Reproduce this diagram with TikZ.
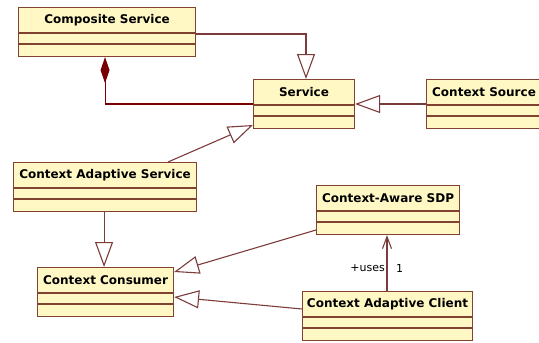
\documentclass[tikz,border=0pt]{standalone}
\usepackage{fontspec}
\setmainfont{DejaVu Sans}
\usetikzlibrary{arrows.meta,calc}
\definecolor{umlfill}{RGB}{255,248,196}
\definecolor{umlborder}{RGB}{130,66,50}
\definecolor{umlline}{RGB}{125,60,60}
\definecolor{umldiamond}{RGB}{120,0,0}
\tikzset{
  classbox/.style={draw=umlborder, fill=umlfill, line width=1.1pt, rectangle, inner sep=0pt, minimum height=49pt, anchor=north west},
  classline/.style={draw=umlborder, line width=1.1pt},
  classname/.style={font=\fontsize{12}{14}\selectfont\bfseries, inner sep=0pt, text=black},
  gen/.style={draw=umlline, line width=1.1pt, -{Triangle[open,length=25pt,width=18pt]}},
  compo/.style={draw=umlline, line width=1.1pt, -{Diamond[length=26pt,width=9pt,fill=umldiamond]}, umldiamond},
  assoc/.style={draw=umlline, line width=1.1pt, -{Straight Barb[length=12pt,width=9pt]}},
  lbl/.style={font=\fontsize{11}{13}\selectfont, inner sep=0pt, text=black},
}
\newcommand{\umlclass}[5]{% name, x, y, width, text
  \node[classbox, minimum width=#4pt] (#1) at (#2,#3) {};
  \draw[classline] ([yshift=-26pt]#1.north west) -- ([yshift=-26pt]#1.north east);
  \draw[classline] ([yshift=-37pt]#1.north west) -- ([yshift=-37pt]#1.north east);
  \node[classname] (#1n) at ([yshift=-13.5pt]#1.north) {#5};
}
\begin{document}
\begin{tikzpicture}[x=1pt,y=-1pt]
\useasboundingbox[fill=white] (0,0) rectangle (539,343);
\umlclass{comp}{18}{7}{177}{Composite Service}
\umlclass{svc}{253}{79}{101}{Service}
\umlclass{src}{426}{79}{115}{Context Source}
\umlclass{cas}{13}{162}{183}{Context Adaptive Service}
\umlclass{cons}{37}{267}{136}{Context Consumer}
\umlclass{sdp}{316}{185}{143}{Context-Aware SDP}
\umlclass{cli}{302}{291}{170}{Context Adaptive Client}
% generalizations
\draw[gen] ([yshift=-27pt]comp.north east) -| ([xshift=53pt]svc.north west);
\draw[gen] ([yshift=-25pt]src.north west) -- ([yshift=-25pt]svc.north east);
\draw[gen] ([xshift=155pt]cas.north west) -- ([yshift=-46pt]svc.north west);
\draw[gen] ([xshift=-1pt]cas.south) -- ([xshift=-1pt]cas.south |- cons.north);
\draw[gen] ([yshift=-45pt]sdp.north west) -- ([yshift=-5pt]cons.north east);
\draw[gen] ([yshift=-18pt]cli.north west) -- ([yshift=-30pt]cons.north east);
% composition
\draw[compo] ([yshift=-25pt]svc.north west) -| ([xshift=-2pt]comp.south);
% association
\coordinate (a1) at ([xshift=85pt]cli.north west);
\draw[assoc] (a1) -- (a1 |- sdp.south);
\node[lbl, anchor=east] (uses) at (385,268) {+uses};
\node[lbl, anchor=west] (mult) at (396,268) {1};
\end{tikzpicture}
\end{document}
